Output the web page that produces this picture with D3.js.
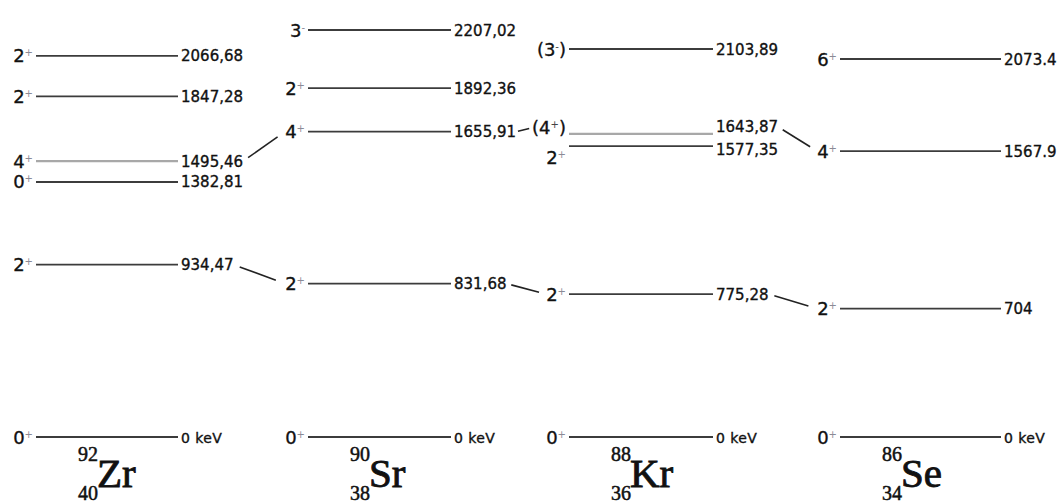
<!DOCTYPE html>
<html>
<head>
<meta charset="utf-8">
<script src="https://cdn.jsdelivr.net/npm/d3@7"></script>
<style>
  html, body { margin: 0; padding: 0; background: #fff; }
  svg { display: block; }
  .lvl-label { font-family: "DejaVu Sans", Verdana, sans-serif; fill: #111; stroke: #111; stroke-width: 0.35px; }
  .iso { font-family: "Liberation Serif", "Times New Roman", serif; fill: #111; stroke: #111; stroke-width: 0.5px; }
</style>
</head>
<body>
<div id="chart"></div>
<script>
// nuclei, bottom captions
const nuclei = ['Zr', 'Sr', 'Kr', 'Se'];
const massNumbers = [92, 90, 88, 86];
const atomicNumbers = [40, 38, 36, 34];

// level energies (keV), spins and printed labels per nucleus
const zrEnergies = [0, 934.47, 1382.81, 1495.46, 1847.28, 2066.68];
const zrSpins    = ['0+', '2+', '0+', '4+', '2+', '2+'];
const zrLabels   = ['0 keV', '934,47', '1382,81', '1495,46', '1847,28', '2066,68'];

const srEnergies = [0, 831.68, 1655.91, 1892.36, 2207.02];
const srSpins    = ['0+', '2+', '4+', '2+', '3-'];
const srLabels   = ['0 keV', '831,68', '1655,91', '1892,36', '2207,02'];

const krEnergies = [0, 775.28, 1577.35, 1643.87, 2103.89];
const krSpins    = ['0+', '2+', '2+', '(4+)', '(3-)'];
const krLabels   = ['0 keV', '775,28', '1577,35', '1643,87', '2103,89'];

const seEnergies = [0, 704, 1567.9, 2073.4];
const seSpins    = ['0+', '2+', '4+', '6+'];
const seLabels   = ['0 keV', '704', '1567.9', '2073.4'];

// levels drawn in lighter grey
const greyLevels = [['Zr', 1495.46], ['Kr', 1643.87]];

// connectors between corresponding levels of neighbouring nuclei
const links = [
  ['Zr', 934.47, 'Sr', 831.68],
  ['Sr', 831.68, 'Kr', 775.28],
  ['Kr', 775.28, 'Se', 704],
  ['Zr', 1495.46, 'Sr', 1655.91],
  ['Sr', 1655.91, 'Kr', 1643.87],
  ['Kr', 1643.87, 'Se', 1567.9]
];

const width = 1062, height = 503;

// column layout (line start / end in px)
const colX = {
  Zr: [36, 178],
  Sr: [308, 451],
  Kr: [569, 713],
  Se: [840, 1001]
};
// small label nudges for the crowded Kr levels
const spinNudge = { 'Kr1643.87': -6, 'Kr1577.35': 11 };
const energyNudge = { 'Kr1643.87': -7, 'Kr1577.35': 3 };

const levelsBy = {
  Zr: zrEnergies.map((e, i) => ({ e: e, spin: zrSpins[i], label: zrLabels[i] })),
  Sr: srEnergies.map((e, i) => ({ e: e, spin: srSpins[i], label: srLabels[i] })),
  Kr: krEnergies.map((e, i) => ({ e: e, spin: krSpins[i], label: krLabels[i] })),
  Se: seEnergies.map((e, i) => ({ e: e, spin: seSpins[i], label: seLabels[i] }))
};

const y = d3.scaleLinear().domain([0, 2207.02]).range([437, 30]);
// the Se panel in the original is drawn a touch more compressed
const ySe = d3.scaleLinear().domain([0, 2073.4]).range([437, 59]);
const yOf = nuc => (nuc == 'Se' ? ySe : y);

const svg = d3.select('#chart').append('svg')
  .attr('width', width)
  .attr('height', height);

svg.append('rect').attr('width', width).attr('height', height).attr('fill', '#fff');

const boxes = {}; // label bounding boxes, used by connectors

nuclei.forEach(function(nuc, ni) {
  const [x1, x2] = colX[nuc];
  const ys_ = yOf(nuc);
  const g = svg.append('g').attr('class', 'col-' + nuc);

  levelsBy[nuc].forEach(function(d) {
    const key = nuc + d.e;
    const yl = ys_(d.e);
    const isGrey = greyLevels.some(gl => gl[0] == nuc && gl[1] == d.e);

    g.append('line')
      .attr('x1', x1).attr('x2', x2)
      .attr('y1', yl).attr('y2', yl)
      .attr('stroke', isGrey ? '#a8a8a8' : '#3c3c3c')
      .attr('stroke-width', isGrey ? 2.2 : 1.8);

    // spin / parity on the left
    const m = d.spin.match(/^(\(?)(\d+)([+-])(\)?)$/);
    const ys = yl + (spinNudge[key] || 0);
    const st = g.append('text')
      .attr('class', 'lvl-label')
      .attr('x', x1 - 3)
      .attr('y', ys + 6.5)
      .attr('text-anchor', 'end')
      .style('font-size', '18px');
    st.append('tspan').text(m[1] + m[2]);
    st.append('tspan')
      .attr('dy', -6)
      .style('font-size', '10px')
      .style('fill', m[1] ? '#444' : '#8a8a96')
      .style('stroke', 'none')
      .text(m[3] == '-' ? '-' : '+');
    if (m[4]) st.append('tspan').attr('dy', 6).text(m[4]);

    // energy on the right
    const ye = yl + (energyNudge[key] || 0);
    const et = g.append('text')
      .attr('class', 'lvl-label')
      .attr('x', x2 + 3)
      .attr('y', ye + 5.5)
      .style('font-size', d.e == 0 ? '14px' : '15px')
      .style('letter-spacing', d.e == 0 ? '0.4px' : '0px')
      .text(d.label);

    boxes[key] = { spin: st.node().getBBox(), energy: et.node().getBBox(), ys: ys, ye: ye };
  });

  // isotope caption: mass number, symbol, atomic number
  const cx = x1 + 42;
  const iso = svg.append('g').attr('class', 'iso-' + nuc);
  iso.append('text').attr('class', 'iso')
    .attr('x', cx).attr('y', 461)
    .style('font-size', '20px')
    .text(massNumbers[ni]);
  iso.append('text').attr('class', 'iso')
    .attr('x', cx).attr('y', 500)
    .style('font-size', '20px')
    .text(atomicNumbers[ni]);
  iso.append('text').attr('class', 'iso')
    .attr('x', cx + 19).attr('y', 487)
    .style('font-size', '41px')
    .style('stroke-width', '0.9px')
    .text(nuc);
});

// connectors
svg.append('g').attr('class', 'links')
  .selectAll('line')
  .data(links)
  .enter()
  .append('line')
  .each(function(l) {
    const a = boxes[l[0] + l[1]], b = boxes[l[2] + l[3]];
    const xa = a.energy.x + a.energy.width, xb = b.spin.x;
    const dx = xb - xa;
    const t0 = 0.12, t1 = 0.82;
    d3.select(this)
      .attr('x1', xa + dx * t0)
      .attr('x2', xa + dx * t1)
      .attr('y1', a.ye + (b.ys - a.ye) * t0)
      .attr('y2', a.ye + (b.ys - a.ye) * t1);
  })
  .attr('stroke', '#222')
  .attr('stroke-width', 1.6);
</script>
</body>
</html>
